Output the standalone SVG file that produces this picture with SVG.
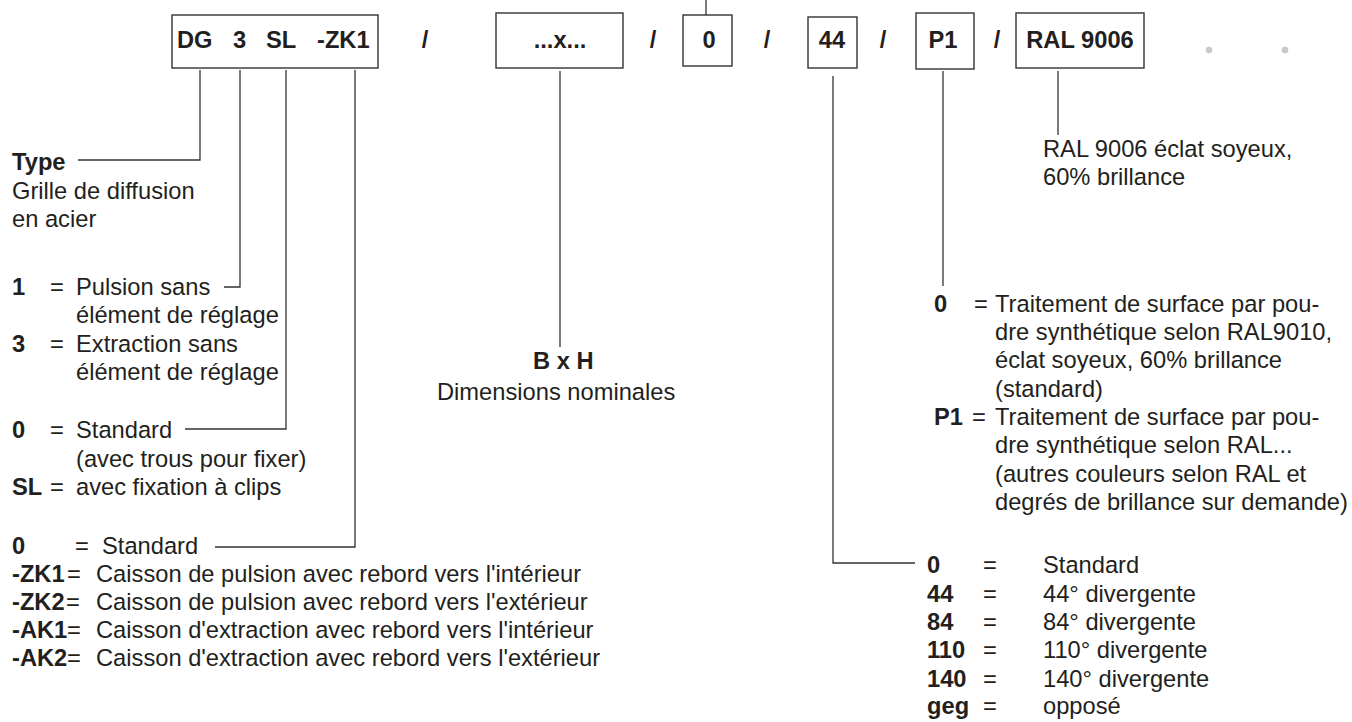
<svg xmlns="http://www.w3.org/2000/svg" width="1352" height="722" viewBox="0 0 1352 722">
<style>
text{font-family:"Liberation Sans",Arial,sans-serif;font-size:23.7px;fill:#231f20}
.b{font-weight:bold}
.m{text-anchor:middle}
.box{fill:#fff;stroke:#333;stroke-width:1.4}
.ln{fill:none;stroke:#333;stroke-width:1.3}
.dot{fill:#c9c9c9}
</style>
<rect width="1352" height="722" fill="#fff"/>
<g id="connectors">
<path class="ln" d="M200,70 V160 H78"/>
<path class="ln" d="M240,70 V287 H224"/>
<path class="ln" d="M286,70 V429 H185"/>
<path class="ln" d="M355,70 V547 H215"/>
<path class="ln" d="M560,71 V347"/>
<path class="ln" d="M706,0 V15"/>
<path class="ln" d="M833,76 V563 H915"/>
<path class="ln" d="M943,71 V286"/>
<path class="ln" d="M1058,71 V135"/>
</g>
<g id="code">
<rect class="box" x="172" y="15" width="206" height="53"/>
<text class="b" x="177" y="48">DG</text>
<text class="b" x="233" y="48">3</text>
<text class="b" x="266" y="48">SL</text>
<text class="b" x="317" y="48">-ZK1</text>
</g>
<g id="slashes">
<text class="b m" x="425" y="48">/</text>
<text class="b m" x="653" y="48">/</text>
<text class="b m" x="767" y="48">/</text>
<text class="b m" x="883" y="48">/</text>
<text class="b m" x="997" y="48">/</text>
</g>
<g id="size">
<rect class="box" x="496" y="13" width="127" height="55"/>
<text class="b m" x="560" y="48">...x...</text>
</g>
<g id="box0">
<rect class="box" x="683" y="15" width="49" height="51"/>
<text class="b m" x="709" y="48">0</text>
</g>
<g id="box44">
<rect class="box" x="808" y="17" width="49" height="51"/>
<text class="b m" x="832" y="48">44</text>
</g>
<g id="boxP1">
<rect class="box" x="916" y="13" width="58" height="56"/>
<text class="b m" x="943" y="48">P1</text>
</g>
<g id="boxRAL">
<rect class="box" x="1016" y="13" width="128" height="55"/>
<text class="b m" x="1080" y="48">RAL 9006</text>
</g>
<g id="dots">
<circle class="dot" cx="1209" cy="50" r="3.3"/>
<circle class="dot" cx="1285" cy="50" r="3.3"/>
</g>
<g id="type-desc">
<text class="b" x="12" y="170">Type</text>
<text x="12" y="199">Grille de diffusion</text>
<text x="12" y="227">en acier</text>
</g>
<g id="variant-desc">
<text class="b" x="12" y="295">1</text><text x="50" y="295">=</text><text x="76" y="295">Pulsion sans</text>
<text x="76" y="323">élément de réglage</text>
<text class="b" x="12" y="352">3</text><text x="50" y="352">=</text><text x="76" y="352">Extraction sans</text>
<text x="76" y="380">élément de réglage</text>
</g>
<g id="fix-desc">
<text class="b" x="12" y="438">0</text><text x="50" y="438">=</text><text x="76" y="438">Standard</text>
<text x="76" y="467">(avec trous pour fixer)</text>
<text class="b" x="12" y="495">SL</text><text x="50" y="495">=</text><text x="76" y="495">avec fixation à clips</text>
</g>
<g id="box-desc">
<text class="b" x="12" y="554">0</text><text x="75" y="554">=</text><text x="102" y="554">Standard</text>
<text class="b" x="12" y="582">-ZK1</text><text x="67" y="582">=</text><text x="96" y="582">Caisson de pulsion avec rebord vers l'intérieur</text>
<text class="b" x="12" y="610">-ZK2</text><text x="66" y="610">=</text><text x="96" y="610">Caisson de pulsion avec rebord vers l'extérieur</text>
<text class="b" x="12" y="638">-AK1</text><text x="67" y="638">=</text><text x="96" y="638">Caisson d'extraction avec rebord vers l'intérieur</text>
<text class="b" x="12" y="666">-AK2</text><text x="67" y="666">=</text><text x="96" y="666">Caisson d'extraction avec rebord vers l'extérieur</text>
</g>
<g id="dim-desc">
<text class="b" x="533" y="369">B x H</text>
<text x="437" y="400">Dimensions nominales</text>
</g>
<g id="ral-desc">
<text x="1043" y="157">RAL 9006 éclat soyeux,</text>
<text x="1043" y="185">60% brillance</text>
</g>
<g id="surface-desc">
<text class="b" x="934" y="312">0</text><text x="974" y="312">=</text><text x="995" y="312">Traitement de surface par pou-</text>
<text x="995" y="340">dre synthétique selon RAL9010,</text>
<text x="995" y="368">éclat soyeux, 60% brillance</text>
<text x="995" y="397">(standard)</text>
<text class="b" x="934" y="425">P1</text><text x="972" y="425">=</text><text x="995" y="425">Traitement de surface par pou-</text>
<text x="995" y="453">dre synthétique selon RAL...</text>
<text x="995" y="482">(autres couleurs selon RAL et</text>
<text x="995" y="510">degrés de brillance sur demande)</text>
</g>
<g id="angle-desc">
<text class="b" x="927" y="573">0</text><text x="983" y="573">=</text><text x="1043" y="573">Standard</text>
<text class="b" x="927" y="602">44</text><text x="983" y="602">=</text><text x="1043" y="602">44° divergente</text>
<text class="b" x="927" y="630">84</text><text x="983" y="630">=</text><text x="1043" y="630">84° divergente</text>
<text class="b" x="927" y="658">110</text><text x="983" y="658">=</text><text x="1043" y="658">110° divergente</text>
<text class="b" x="927" y="687">140</text><text x="983" y="687">=</text><text x="1043" y="687">140° divergente</text>
<text class="b" x="927" y="714">geg</text><text x="983" y="714">=</text><text x="1043" y="714">opposé</text>
</g>
</svg>
